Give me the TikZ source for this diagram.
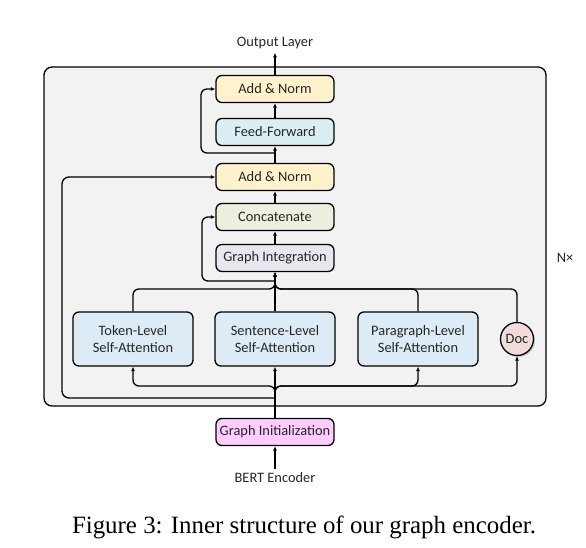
\documentclass[tikz,border=0pt]{standalone}
\usepackage{fontspec}
\setmainfont{Carlito}
\newfontfamily\capfont{Liberation Serif}
\usetikzlibrary{arrows.meta,shadows}
\definecolor{framec}{HTML}{F2F2F2}
\definecolor{normc}{HTML}{FFF2CC}
\definecolor{ffc}{HTML}{DAEEF3}
\definecolor{catc}{HTML}{EBF1DE}
\definecolor{gic}{HTML}{E9E6F0}
\definecolor{attc}{HTML}{DDEBF7}
\definecolor{docc}{HTML}{F2DCDB}
\definecolor{initc}{HTML}{FFCCFF}
\definecolor{txt}{HTML}{262626}
\begin{document}
\begin{tikzpicture}[x=1pt,y=-1pt, line width=1.3pt, line join=round, >={Latex[length=4.5pt,width=4pt]},
    font=\fontsize{14.4}{17}\selectfont, every node/.style={text=txt},
    blk/.style={draw, rounded corners=6pt, minimum width=118pt, minimum height=27pt, inner sep=0pt, align=center},
    att/.style={blk, minimum width=120pt, minimum height=54pt, fill=attc}]
	\useasboundingbox (0,0) rectangle (586,548);
	\draw[fill=framec, rounded corners=8pt] (44,67) rectangle (546,406);
	% stack of the encoder layer
	\node (out) at (275,43) {Output Layer};
	\node[blk, fill=normc] (an2) at (275,89) {Add \& Norm};
	\node[blk, fill=ffc] (ff) at (275,132) {Feed-Forward};
	\node[blk, fill=normc] (an1) at (275,177) {Add \& Norm};
	\node[blk, fill=catc] (cat) at (275,217) {Concatenate};
	\node[blk, fill=gic] (gi) at (275,258) {Graph Integration};
	\node[att] (tok) at (133,339) {Token-Level\\Self-Attention};
	\node[att] (sen) at (275,339) {Sentence-Level\\Self-Attention};
	\node[att] (par) at (418,339) {Paragraph-Level\\Self-Attention};
	\node[draw, circle, fill=docc, minimum size=33pt, inner sep=0pt, drop shadow={shadow xshift=1.5pt, shadow yshift=-1.5pt, opacity=.35}] (doc) at (517,339) {Doc};
	\node[blk, fill=initc] (ginit) at (275,432) {Graph Initialization};
	\node (bert) at (275,478) {BERT Encoder};
	\node (nx) at (565,258) {N×};
	\node[font=\capfont\fontsize{24.9}{28}\selectfont, text=black] (cap) at (304,527) {Figure 3: Inner structure of our graph encoder.};
	% branch points on the trunk
	\coordinate (split) at (275,395);
	\coordinate (merge) at (275,289);
	\draw[line width=2.6pt] (ginit.north) -- (split);
	\draw[->] (bert.north) -- (ginit.south);
	\draw[->] (split) -- (sen.south);
	\draw[->, rounded corners=6pt] (split) -- (275,386) -| (tok.south);
	\draw[->, rounded corners=6pt] (split) -- (275,386) -| (par.south);
	\draw[->, rounded corners=6pt] (split) -- (275,386) -| (doc.south);
	\draw[->, rounded corners=7pt] (275,398) -| (62,177) -- (an1.west);
	\draw[->] (sen.north) -- (gi.south);
	\foreach \n in {tok,par,doc} \draw[->, rounded corners=6pt] (\n.north) |- (merge) -- (gi.south);
	\draw[->, rounded corners=6pt] (275,281) -| (202,217) -- (cat.west);
	\draw[->] (gi.north) -- (cat.south);
	\draw[->] (cat.north) -- (an1.south);
	\draw[->] (an1.north) -- (ff.south);
	\draw[->, rounded corners=6pt] (275,153) -| (201,89) -- (an2.west);
	\draw[->] (ff.north) -- (an2.south);
	\draw[->] (an2.north) -- (out.south);
\end{tikzpicture}
\end{document}
